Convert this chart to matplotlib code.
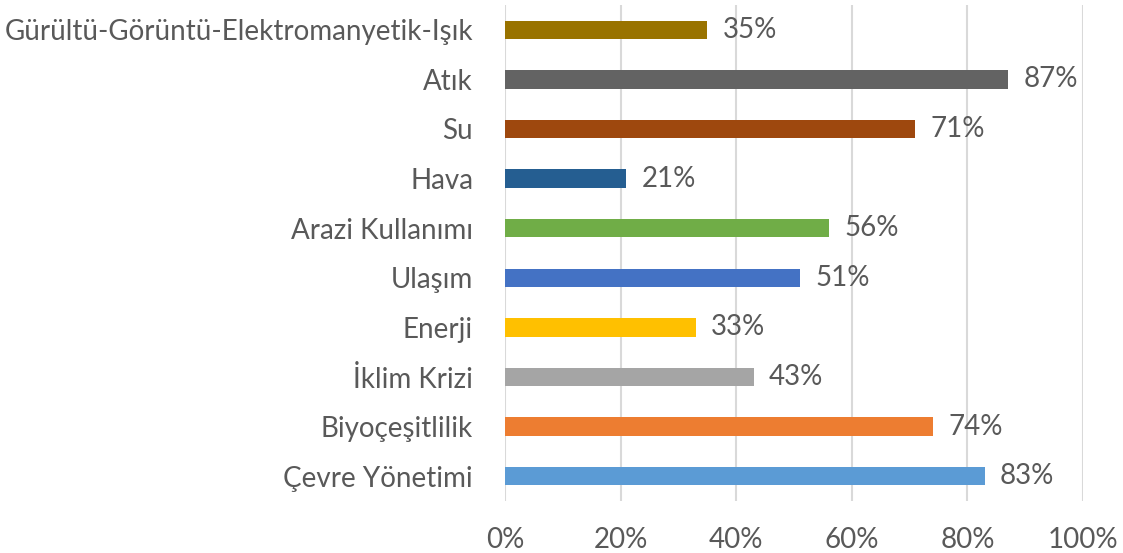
import matplotlib
matplotlib.use('Agg')
import matplotlib.pyplot as plt
from matplotlib.ticker import FuncFormatter

# Categories bottom-to-top as drawn
categories = ['Çevre Yönetimi', 'Biyoçeşitlilik', 'İklim Krizi', 'Enerji', 'Ulaşım',
              'Arazi Kullanımı', 'Hava', 'Su', 'Atık',
              'Gürültü-Görüntü-Elektromanyetik-Işık']
values = [83, 74, 43, 33, 51, 56, 21, 71, 87, 35]
colors = ['#5B9BD5', '#ED7D31', '#A5A5A5', '#FFC000', '#4472C4',
          '#70AD47', '#255E91', '#9E480E', '#636363', '#997300']
x_ticks = [0, 20, 40, 60, 80, 100]

plt.rcParams['font.family'] = ['Lato', 'DejaVu Sans']
text_color = '#595959'
fsize = 20

fig = plt.figure(figsize=(11.23, 5.53), dpi=100)
ax = fig.add_axes([0.4497, 0.094, 0.5147, 0.897])

ypos = list(range(len(categories)))
ax.barh(ypos, values, height=0.37, color=colors, zorder=3)

for y, v in zip(ypos, values):
    ax.annotate(f'{v}%', (v, y), xytext=(11, 0), textcoords='offset points',
                va='center', ha='left', fontsize=fsize, color=text_color)

ax.set_xlim(0, 100)
ax.set_ylim(-0.5, len(categories) - 0.5)
ax.set_xticks(x_ticks)
ax.xaxis.set_major_formatter(FuncFormatter(lambda v, p: f'{v:.0f}%'))
ax.set_yticks(ypos)
ax.set_yticklabels(categories)
ax.tick_params(axis='both', length=0, labelsize=fsize, colors=text_color)
ax.tick_params(axis='x', pad=19)
ax.tick_params(axis='y', pad=23)
ax.grid(axis='x', color='#D9D9D9', linewidth=1.5, zorder=0)
for s in ax.spines.values():
    s.set_visible(False)

fig.savefig('out.png', dpi=100)
